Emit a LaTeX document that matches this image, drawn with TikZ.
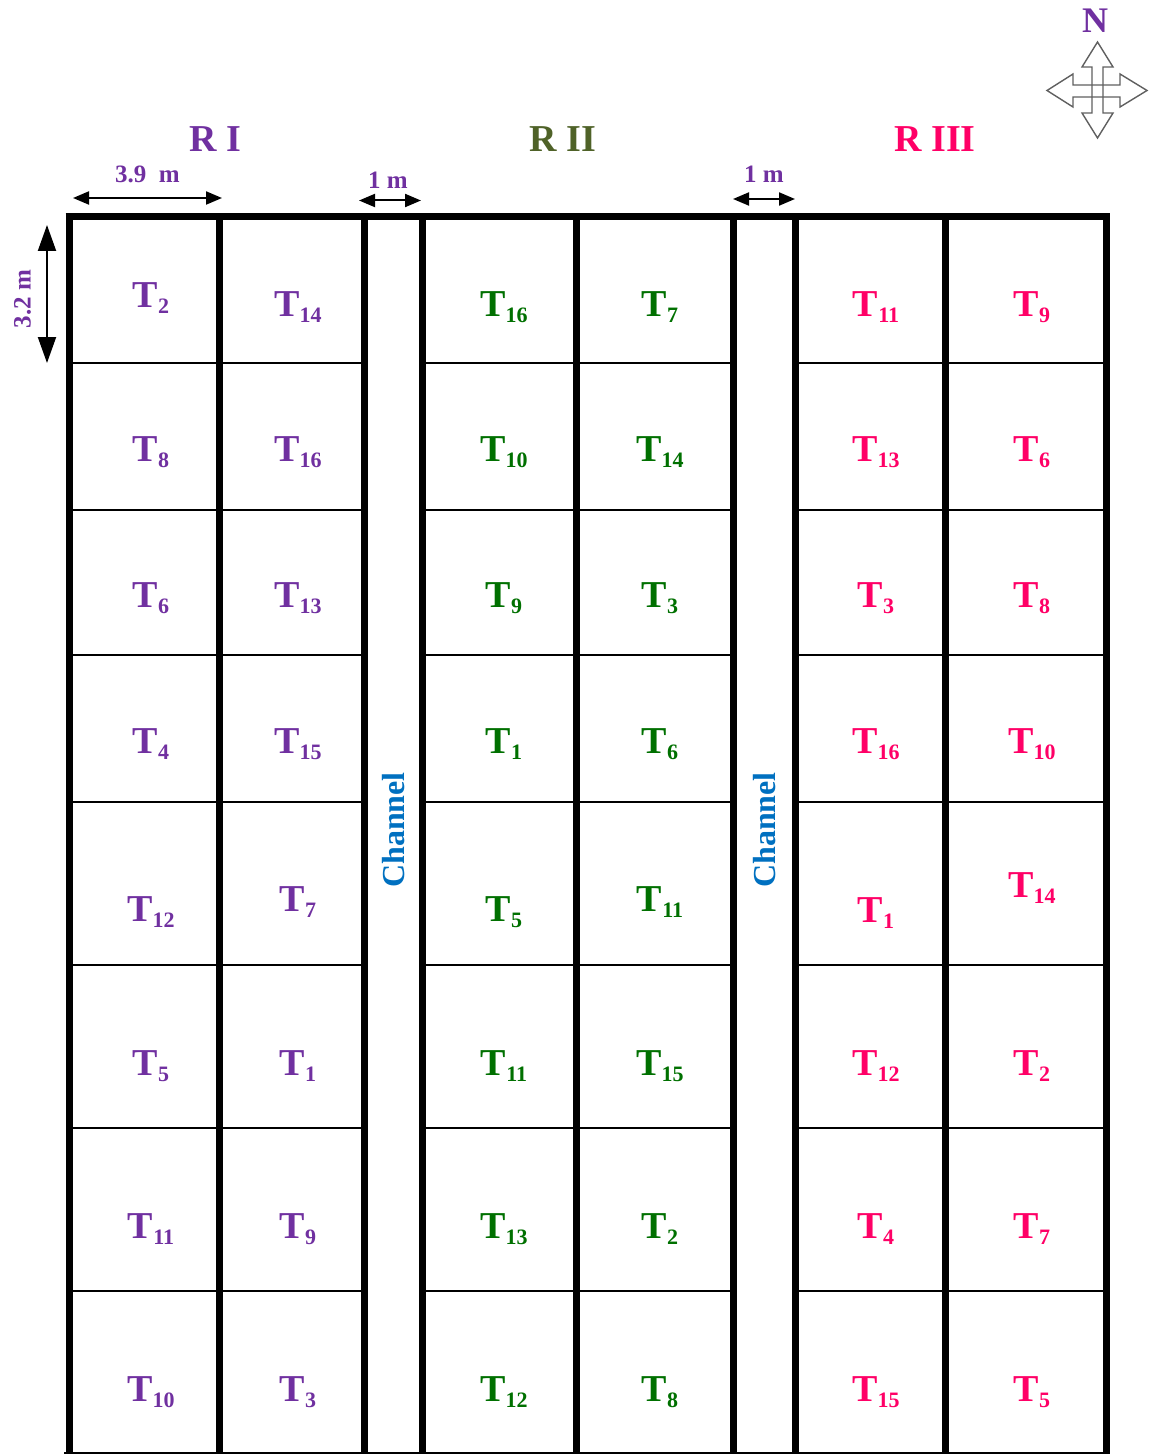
\documentclass[tikz,border=0pt]{standalone}
\usepackage{fontspec}
\setmainfont{Liberation Serif}
\usetikzlibrary{arrows.meta}
\definecolor{riviolet}{RGB}{112,48,160}
\definecolor{riigreen}{RGB}{0,112,0}
\definecolor{riiolive}{RGB}{79,98,40}
\definecolor{riiipink}{RGB}{255,0,102}
\definecolor{channelblue}{RGB}{0,112,192}
\definecolor{compassgray}{RGB}{95,95,95}
\newcommand{\trt}[1]{T\raisebox{-3pt}{\fontsize{11}{12}\selectfont #1}}
\tikzset{
  plot label/.style={font=\bfseries\fontsize{19}{22}\selectfont, inner sep=0pt, anchor=base},
  dim label/.style={font=\bfseries\fontsize{12.5}{14}\selectfont, text=riviolet, inner sep=0pt, anchor=base},
  channel label/.style={font=\bfseries\fontsize{16}{18}\selectfont, text=channelblue, inner sep=0pt, rotate=90},
  dim arrow/.style={{Triangle[length=8pt,width=6.5pt]}-{Triangle[length=8pt,width=6.5pt]}, line width=1pt},
  bed wall/.style={line width=3.5pt},
  bed line/.style={line width=1pt},
  compass arrow/.style={draw=compassgray, line width=0.7pt, line join=miter}
}

\begin{document}
\begin{tikzpicture}[x=0.5pt,y=-0.5pt]
  \useasboundingbox (0,0) rectangle (1149,1455);
  % plot borders
  \foreach \y in {363,510,655,802,965,1128,1291} {
    \draw[bed line] (69,\y) -- (364,\y);
    \draw[bed line] (422,\y) -- (733,\y);
    \draw[bed line] (795,\y) -- (1106,\y);
  }
  \draw[bed line] (64,1453) -- (1109.5,1453);
  % walls
  \foreach \x in {69,219,364,422,576,733,795,945,1106}
    \draw[bed wall] (\x,217) -- (\x,1453);
  \draw[bed wall] (65.5,217) -- (1109.5,217);

  % replications
  \node[plot label, text=riviolet] (rI) at (215,152) {R I};
  \node[plot label, text=riiolive] (rII) at (563,152) {R II};
  \node[plot label, text=riiipink] (rIII) at (935,152) {R III};

  % dimensions
  \coordinate (w-l) at (73,198);
  \coordinate (w-r) at (222,198);
  \coordinate (c1-l) at (359,200.5);
  \coordinate (c1-r) at (421,200.5);
  \coordinate (c2-l) at (733,199);
  \coordinate (c2-r) at (795,199);
  \coordinate (h-t) at (47,225);
  \coordinate (h-b) at (47,363);
  \draw[dim arrow] (w-l) -- (w-r);
  \draw[dim arrow] (c1-l) -- (c1-r);
  \draw[dim arrow] (c2-l) -- (c2-r);
  \draw[{Triangle[length=13pt,width=9pt]}-{Triangle[length=13pt,width=9pt]}, line width=1pt] (h-t) -- (h-b);
  \node[dim label] (w-text) at (147.5,183) {3.9\ \ m};
  \node[dim label] (c1-text) at (388,189) {1 m};
  \node[dim label] (c2-text) at (764,183) {1 m};
  \node[dim label, anchor=center, rotate=90] (h-text) at (22.5,299) {3.2 m};

  % channels
  \node[channel label] (chan1) at (394,830) {Channel};
  \node[channel label] (chan2) at (765,830) {Channel};

  % R I
  \node[plot label, text=riviolet] (ri-1a) at (151,307) {\trt{2}};
  \node[plot label, text=riviolet] (ri-2a) at (151,461) {\trt{8}};
  \node[plot label, text=riviolet] (ri-3a) at (151,607) {\trt{6}};
  \node[plot label, text=riviolet] (ri-4a) at (151,753) {\trt{4}};
  \node[plot label, text=riviolet] (ri-5a) at (151,921) {\trt{12}};
  \node[plot label, text=riviolet] (ri-6a) at (151,1075) {\trt{5}};
  \node[plot label, text=riviolet] (ri-7a) at (151,1238) {\trt{11}};
  \node[plot label, text=riviolet] (ri-8a) at (151,1401) {\trt{10}};
  \node[plot label, text=riviolet] (ri-1b) at (298,316) {\trt{14}};
  \node[plot label, text=riviolet] (ri-2b) at (298,461) {\trt{16}};
  \node[plot label, text=riviolet] (ri-3b) at (298,607) {\trt{13}};
  \node[plot label, text=riviolet] (ri-4b) at (298,753) {\trt{15}};
  \node[plot label, text=riviolet] (ri-5b) at (298,911) {\trt{7}};
  \node[plot label, text=riviolet] (ri-6b) at (298,1075) {\trt{1}};
  \node[plot label, text=riviolet] (ri-7b) at (298,1238) {\trt{9}};
  \node[plot label, text=riviolet] (ri-8b) at (298,1401) {\trt{3}};

  % R II
  \node[plot label, text=riigreen] (rii-1a) at (504,316) {\trt{16}};
  \node[plot label, text=riigreen] (rii-2a) at (504,461) {\trt{10}};
  \node[plot label, text=riigreen] (rii-3a) at (504,607) {\trt{9}};
  \node[plot label, text=riigreen] (rii-4a) at (504,753) {\trt{1}};
  \node[plot label, text=riigreen] (rii-5a) at (504,921) {\trt{5}};
  \node[plot label, text=riigreen] (rii-6a) at (504,1075) {\trt{11}};
  \node[plot label, text=riigreen] (rii-7a) at (504,1238) {\trt{13}};
  \node[plot label, text=riigreen] (rii-8a) at (504,1401) {\trt{12}};
  \node[plot label, text=riigreen] (rii-1b) at (660,316) {\trt{7}};
  \node[plot label, text=riigreen] (rii-2b) at (660,461) {\trt{14}};
  \node[plot label, text=riigreen] (rii-3b) at (660,607) {\trt{3}};
  \node[plot label, text=riigreen] (rii-4b) at (660,753) {\trt{6}};
  \node[plot label, text=riigreen] (rii-5b) at (660,911) {\trt{11}};
  \node[plot label, text=riigreen] (rii-6b) at (660,1075) {\trt{15}};
  \node[plot label, text=riigreen] (rii-7b) at (660,1238) {\trt{2}};
  \node[plot label, text=riigreen] (rii-8b) at (660,1401) {\trt{8}};

  % R III
  \node[plot label, text=riiipink] (riii-1a) at (876,316) {\trt{11}};
  \node[plot label, text=riiipink] (riii-2a) at (876,461) {\trt{13}};
  \node[plot label, text=riiipink] (riii-3a) at (876,607) {\trt{3}};
  \node[plot label, text=riiipink] (riii-4a) at (876,753) {\trt{16}};
  \node[plot label, text=riiipink] (riii-5a) at (876,922) {\trt{1}};
  \node[plot label, text=riiipink] (riii-6a) at (876,1075) {\trt{12}};
  \node[plot label, text=riiipink] (riii-7a) at (876,1238) {\trt{4}};
  \node[plot label, text=riiipink] (riii-8a) at (876,1401) {\trt{15}};
  \node[plot label, text=riiipink] (riii-1b) at (1032,316) {\trt{9}};
  \node[plot label, text=riiipink] (riii-2b) at (1032,461) {\trt{6}};
  \node[plot label, text=riiipink] (riii-3b) at (1032,607) {\trt{8}};
  \node[plot label, text=riiipink] (riii-4b) at (1032,753) {\trt{10}};
  \node[plot label, text=riiipink] (riii-5b) at (1032,897) {\trt{14}};
  \node[plot label, text=riiipink] (riii-6b) at (1032,1075) {\trt{2}};
  \node[plot label, text=riiipink] (riii-7b) at (1032,1238) {\trt{7}};
  \node[plot label, text=riiipink] (riii-8b) at (1032,1401) {\trt{5}};

  % compass
  \node[plot label, font=\bfseries\fontsize{18}{20}\selectfont, text=riviolet] (north) at (1095,33) {N};
  \draw[compass arrow] (1097.5,42) -- (1113,67) -- (1103,67) -- (1103,113) -- (1113,113)
    -- (1097.5,138) -- (1082,113) -- (1092,113) -- (1092,67) -- (1082,67) -- cycle;
  \draw[compass arrow] (1047,90.5) -- (1073,74) -- (1073,85) -- (1120,85) -- (1120,74)
    -- (1147,90.5) -- (1120,107) -- (1120,97) -- (1073,97) -- (1073,107) -- cycle;
\end{tikzpicture}
\end{document}
